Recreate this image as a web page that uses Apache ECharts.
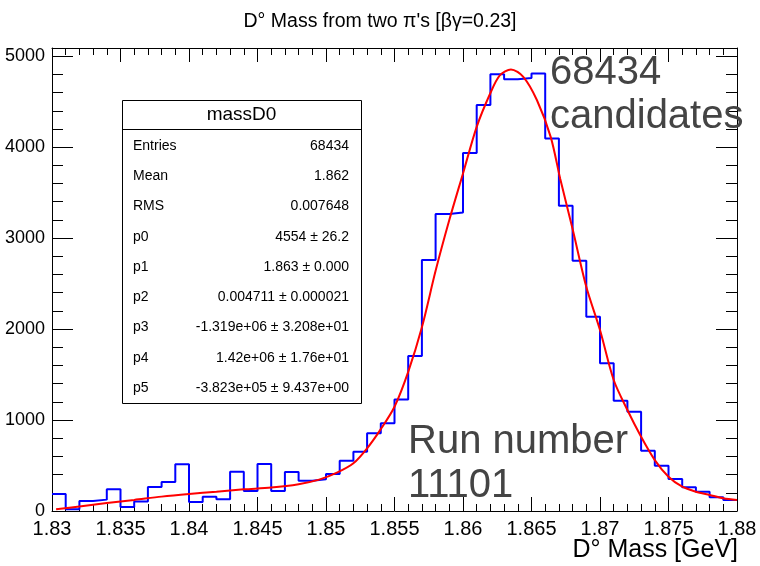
<!DOCTYPE html>
<html>
<head>
<meta charset="utf-8">
<script src="https://cdn.jsdelivr.net/npm/echarts@6/dist/echarts.min.js"></script>
<style>html,body{margin:0;padding:0;background:#fff;}#c{width:760px;height:566px;}</style>
</head>
<body>
<div id="c"></div>
<script>
// ---- data ----
const binStart = 1.83;
const binWidth = 0.001;
const binCounts = [187, 20, 110, 125, 240, 45, 105, 265, 320, 515,
                   100, 157, 128, 432, 220, 516, 220, 428, 333, 348,
                   406, 553, 652, 854, 964, 1227, 1705, 2758, 3264, 3282,
                   3935, 4462, 4802, 4747, 4760, 4810, 4095, 3355, 2750, 2135,
                   1623, 1212, 1091, 663, 498, 352, 260, 212, 150, 121];
const fitX = [1.8303, 1.832, 1.834, 1.836, 1.838, 1.840, 1.842, 1.844, 1.846, 1.848,
              1.8495, 1.8508, 1.852, 1.853, 1.854, 1.855, 1.856, 1.857, 1.858, 1.859,
              1.860, 1.861, 1.862, 1.8627, 1.8635, 1.8644, 1.8654, 1.8664, 1.8671, 1.868,
              1.869, 1.870, 1.871, 1.872, 1.873, 1.874, 1.875, 1.876, 1.877, 1.878, 1.879, 1.880];
const fitY = [18, 50, 88, 122, 158, 187, 212, 238, 258, 295,
              345, 421, 524, 689, 900, 1146, 1530, 2020, 2640, 3198,
              3711, 4223, 4595, 4791, 4854, 4773, 4516, 4113, 3650, 3100,
              2465, 1989, 1440, 1110, 816, 560, 377, 267, 212, 176, 140, 121];
const statLabels = ['Entries', 'Mean', 'RMS', 'p0', 'p1', 'p2', 'p3', 'p4', 'p5'];
const statValues = ['68434', '1.862', '0.007648', '4554 \u00b1 26.2', '1.863 \u00b1 0.000',
                    '0.004711 \u00b1 0.000021', '-1.319e+06 \u00b1 3.208e+01',
                    '1.42e+06 \u00b1 1.76e+01', '-3.823e+05 \u00b1 9.437e+00'];
const statTitle = 'massD0';
const titleText = 'D\u00b0 Mass from two \u03c0\'s [\u03b2\u03b3=0.23]';
const xTitle = 'D\u00b0 Mass [GeV]';
const noteTop = ['68434', 'candidates'];
const noteBottom = ['Run number', '11101'];

// ---- build ----
const FONT = '"Liberation Sans", Arial, Helvetica, sans-serif';
const histData = binCounts.map((v, i) => [binStart + i * binWidth, v]);
histData.push([binStart + binCounts.length * binWidth, binCounts[binCounts.length - 1]]);
const fitData = fitX.map((x, i) => [x, fitY[i]]);

const fmtX = v => String(parseFloat(v.toFixed(3)));

function xAx(pos, showLabel) {
  return {
    type: 'value', position: pos, min: 1.83, max: 1.88, interval: 0.005,
    axisLine: {show: true, onZero: false, lineStyle: {color: '#000', width: 1}},
    axisTick: {show: true, inside: true, length: 14, lineStyle: {color: '#000', width: 1}},
    minorTick: {show: true, splitNumber: 5, length: 7, lineStyle: {color: '#000', width: 1}},
    splitLine: {show: false},
    axisLabel: {show: showLabel, formatter: fmtX, fontFamily: FONT, fontSize: 20, color: '#000', margin: 8,
                showMinLabel: true, showMaxLabel: true}
  };
}
function yAx(pos, showLabel) {
  return {
    type: 'value', position: pos, min: 0, max: 5090, interval: 1000,
    axisLine: {show: true, onZero: false, lineStyle: {color: '#000', width: 1}},
    axisTick: {show: true, inside: true, length: 21, lineStyle: {color: '#000', width: 1}},
    minorTick: {show: true, splitNumber: 5, length: 11, lineStyle: {color: '#000', width: 1}},
    splitLine: {show: false},
    axisLabel: {show: showLabel, formatter: v => (v % 1000 === 0 ? String(v) : ''),
                fontFamily: FONT, fontSize: 18, color: '#000', margin: 7}
  };
}

const graphics = [];
const bx = 122, by = 100, bw = 239, bh = 303;
graphics.push({type: 'rect', z: 100, shape: {x: bx + 0.5, y: by + 0.5, width: bw, height: bh},
  style: {fill: '#fff', stroke: '#000', lineWidth: 1}});
graphics.push({type: 'line', z: 101, shape: {x1: bx, y1: 129.5, x2: bx + bw, y2: 129.5},
  style: {stroke: '#000', lineWidth: 1}});
graphics.push({type: 'text', z: 101, x: bx + bw / 2, y: 115,
  style: {text: statTitle, font: '19px ' + FONT, fill: '#000', textAlign: 'center', textVerticalAlign: 'middle'}});
statLabels.forEach((l, i) => {
  const yy = 146 + i * 30.25;
  graphics.push({type: 'text', z: 101, x: 133, y: yy,
    style: {text: l, font: '14px ' + FONT, fill: '#000', textAlign: 'left', textVerticalAlign: 'middle'}});
  graphics.push({type: 'text', z: 101, x: 349, y: yy,
    style: {text: statValues[i], font: '14px ' + FONT, fill: '#000', textAlign: 'right', textVerticalAlign: 'middle'}});
});
noteTop.forEach((t, i) => {
  graphics.push({type: 'text', z: 90, x: 550, y: 73 + i * 44,
    style: {text: t, font: '40px ' + FONT, fill: '#444', textAlign: 'left', textVerticalAlign: 'middle'}});
});
noteBottom.forEach((t, i) => {
  graphics.push({type: 'text', z: 90, x: 408, y: 442 + i * 44,
    style: {text: t, font: '40px ' + FONT, fill: '#444', textAlign: 'left', textVerticalAlign: 'middle'}});
});
graphics.push({type: 'text', z: 90, x: 738, y: 550,
  style: {text: xTitle, font: '25px ' + FONT, fill: '#000', textAlign: 'right', textVerticalAlign: 'middle'}});

const chart = echarts.init(document.getElementById('c'), null, {renderer: 'canvas'});
chart.setOption({
  backgroundColor: '#fff',
  animation: false,
  title: {text: titleText, left: 'center', top: 7,
    textStyle: {fontFamily: FONT, fontSize: 19.5, fontWeight: 'normal', color: '#000'}},
  grid: {left: 52, right: 23, top: 48, bottom: 55, containLabel: false},
  xAxis: [xAx('bottom', true), xAx('top', false)],
  yAxis: [yAx('left', true), yAx('right', false)],
  series: [
    {type: 'line', name: 'hist', data: histData, step: 'end', symbol: 'none', showSymbol: false,
     lineStyle: {color: '#0000ff', width: 2}, itemStyle: {color: '#0000ff'}, z: 3, clip: true},
    {type: 'line', name: 'fit', data: fitData, smooth: 0.3, symbol: 'none', showSymbol: false,
     lineStyle: {color: '#ff0000', width: 2}, itemStyle: {color: '#ff0000'}, z: 4, clip: true}
  ],
  graphic: graphics
});
</script>
</body>
</html>
